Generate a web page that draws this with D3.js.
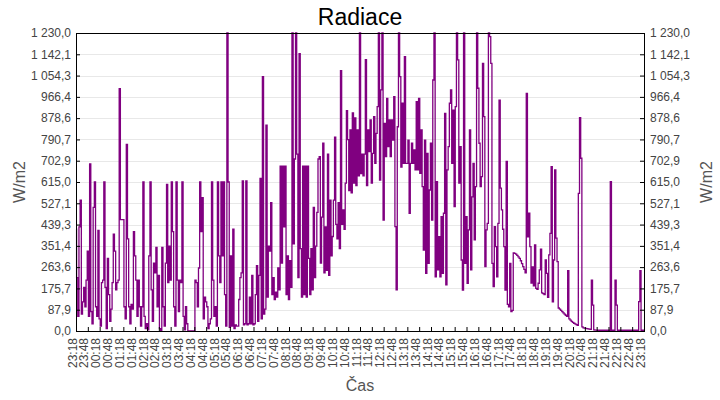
<!DOCTYPE html>
<html>
<head>
<meta charset="utf-8">
<script src="https://cdn.jsdelivr.net/npm/d3@7"></script>
<style>
  body { margin: 0; background: #fff; }
  text { font-family: "Liberation Sans", Arial, sans-serif; }
</style>
</head>
<body>
<div id="chart"></div>
<script>
// radiation readings, one every 3 minutes from 23:18 to 23:18 next day (W/m2)
const radiace = [
  // 23:18
  420,220,60,430,540,70,120,180,100,210,330,60,690,80,30,510,615,100,60,415,
  // 00:18
  50,20,200,210,615,180,10,300,150,40,90,200,400,330,170,200,210,1000,460,460,
  // 01:18
  460,100,50,770,380,100,30,110,90,410,310,210,60,210,100,20,100,615,60,10,
  // 02:18
  30,5,310,615,170,40,280,240,345,100,230,10,0,345,100,20,280,605,200,350,
  // 03:18
  210,615,410,100,20,615,210,80,210,200,615,60,5,100,30,0,0,0,0,0,
  // 04:18
  0,210,200,100,260,615,410,550,50,140,120,100,10,30,50,615,210,60,100,20,
  // 05:18
  615,310,200,615,310,615,150,20,1230,615,15,310,20,420,10,25,20,20,130,220,
  // 06:18
  240,620,25,30,620,25,30,140,30,230,25,30,150,270,40,230,630,50,1050,70,
  // 07:18
  90,850,140,350,330,530,150,220,130,160,140,260,170,680,280,680,430,680,150,310,
  // 08:18
  130,290,180,1230,360,710,1230,730,220,1145,340,140,680,150,680,140,680,300,150,340,
  // 09:18
  170,510,220,350,490,710,720,280,470,775,240,430,250,730,230,540,310,390,540,800,
  // 10:18
  440,380,530,340,1075,440,500,420,610,910,790,580,830,570,900,610,880,600,830,640,
  // 11:18
  1230,650,730,640,730,1120,600,830,740,871,610,733,885,692,816,926,1230,623,995,1230,
  // 12:18
  458,857,720,960,761,871,720,871,788,967,431,170,843,1230,1050,677,940,692,1132,692,
  // 13:18
  692,788,486,692,775,692,747,665,947,665,960,651,830,596,334,788,238,733,279,582,
  // 14:18
  775,458,1036,1230,224,616,252,389,224,472,238,486,898,190,665,761,940,995,692,912,
  // 15:18
  513,926,1230,1119,610,761,293,169,1230,279,472,197,417,830,252,554,692,376,596,1230,
  // 16:18
  1002,775,596,637,1105,885,266,417,444,1230,1215,1105,279,183,431,348,224,444,953,590,
  // 17:18
  500,420,348,169,700,110,100,279,80,85,322,320,317,312,306,300,290,278,266,254,
  // 18:18
  240,981,389,486,348,198,265,186,355,176,172,197,252,338,157,154,150,293,238,139,
  // 19:18
  314,403,678,120,293,665,383,286,95,90,85,80,75,70,65,60,249,50,45,40,
  // 20:18
  36,32,29,26,23,568,881,713,17,13,12,11,10,9,8,7,210,107,5,4,
  // 21:18
  4,3,3,3,3,3,3,3,3,3,3,3,616,3,3,3,210,107,3,3,
  // 22:18
  3,3,3,3,3,3,3,3,3,3,3,3,3,3,3,3,121,249,3,3,
  // 23:18
  3
];

const xTickLabels = [
  "23:18","23:48","00:18","00:48","01:18","01:48","02:18","02:48","03:18","03:48",
  "04:18","04:48","05:18","05:48","06:18","06:48","07:18","07:48","08:18","08:48",
  "09:18","09:48","10:18","10:48","11:18","11:48","12:18","12:48","13:18","13:48",
  "14:18","14:48","15:18","15:48","16:18","16:48","17:18","17:48","18:18","18:48",
  "19:18","19:48","20:18","20:48","21:18","21:48","22:18","22:48","23:18"
];

const yTicks = [0, 87.9, 175.7, 263.6, 351.4, 439.3, 527.1, 615.0, 702.9, 790.7, 878.6, 966.4, 1054.3, 1142.1, 1230.0];
const yTickLabels = ["0,0","87,9","175,7","263,6","351,4","439,3","527,1","615,0","702,9","790,7","878,6","966,4","1 054,3","1 142,1","1 230,0"];

const width = 720, height = 400;
const plotLeft = 76, plotRight = 644, plotTop = 33, plotBottom = 331;

const svg = d3.select("#chart").append("svg")
    .attr("width", width)
    .attr("height", height)
    .style("display", "block");

svg.append("rect").attr("width", width).attr("height", height).attr("fill", "#fff");

const x = d3.scaleLinear().domain([0, radiace.length - 1]).range([plotLeft, plotRight]);
const y = d3.scaleLinear().domain([0, 1230]).range([plotBottom, plotTop]);

// grid
svg.append("g")
    .selectAll("line")
    .data(yTicks.slice(1, -1))
    .enter()
    .append("line")
    .attr("x1", plotLeft).attr("x2", plotRight)
    .attr("y1", d => Math.round(y(d)) + 0.5)
    .attr("y2", d => Math.round(y(d)) + 0.5)
    .attr("stroke", "#e8e8e8");

// the series, drawn as steps so spikes stand up straight
const line = d3.line()
    .x((d, i) => x(i))
    .y(d => y(d))
    .curve(d3.curveStep);

svg.append("path")
    .datum(radiace)
    .attr("d", line)
    .attr("fill", "none")
    .attr("stroke", "#800080")
    .attr("stroke-width", 1.3);

// axes, ticks pointing inward
const tickIdx = xTickLabels.map((d, i) => i * 10);

const yLeft = svg.append("g")
    .attr("transform", `translate(${plotLeft},0)`)
    .call(d3.axisLeft(y).tickValues(yTicks).tickSize(-4).tickPadding(5)
        .tickFormat((d, i) => yTickLabels[i]));

const yRight = svg.append("g")
    .attr("transform", `translate(${plotRight},0)`)
    .call(d3.axisRight(y).tickValues(yTicks).tickSize(-4).tickPadding(6)
        .tickFormat((d, i) => yTickLabels[i]));

const xAxis = svg.append("g")
    .attr("transform", `translate(0,${plotBottom})`)
    .call(d3.axisBottom(x).tickValues(tickIdx).tickSize(-4)
        .tickFormat((d, i) => xTickLabels[i]));

xAxis.selectAll("text")
    .attr("transform", "rotate(-90)")
    .attr("x", -7)
    .attr("y", 0)
    .attr("dy", 0)
    .style("text-anchor", "end");

[yLeft, yRight, xAxis].forEach(function(g) {
    g.select(".domain").remove();
    g.selectAll("line").attr("stroke", "#000");
    g.selectAll("text")
        .attr("fill", "#444")
        .style("font-size", "12px")
        .style("font-family", "'Liberation Sans', Arial, sans-serif");
});

// frame
svg.append("rect")
    .attr("x", plotLeft + 0.5).attr("y", plotTop + 0.5)
    .attr("width", plotRight - plotLeft).attr("height", plotBottom - plotTop)
    .attr("fill", "none")
    .attr("stroke", "#000");

// titles
svg.append("text")
    .attr("x", 360).attr("y", 25)
    .attr("text-anchor", "middle")
    .style("font-size", "23px")
    .attr("fill", "#000")
    .text("Radiace");

svg.append("text")
    .attr("x", 360).attr("y", 391)
    .attr("text-anchor", "middle")
    .style("font-size", "16px")
    .attr("fill", "#555")
    .text("Čas");

svg.append("text")
    .attr("transform", "translate(25,182) rotate(-90)")
    .attr("text-anchor", "middle")
    .style("font-size", "16px")
    .attr("fill", "#555")
    .text("W/m2");

svg.append("text")
    .attr("transform", "translate(712,182) rotate(-90)")
    .attr("text-anchor", "middle")
    .style("font-size", "16px")
    .attr("fill", "#555")
    .text("W/m2");
</script>
</body>
</html>
